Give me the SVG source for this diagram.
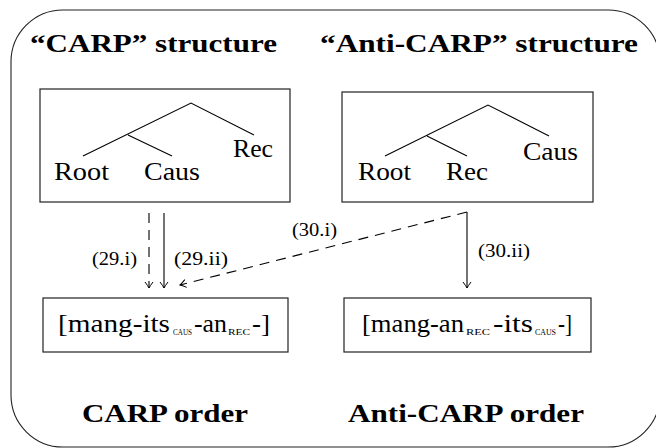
<svg xmlns="http://www.w3.org/2000/svg" width="656" height="448" viewBox="0 0 656 448">
<style>
  .frame{fill:none;stroke:#222;stroke-width:1.1}
  .box{fill:#fff;stroke:#222;stroke-width:1.2}
  .br{fill:none;stroke:#000;stroke-width:1.1}
  text{font-family:"Liberation Serif","DejaVu Serif","Noto Serif","Tinos","Nimbus Roman","Nimbus Roman No9 L","FreeSerif","Times New Roman",Times,serif;fill:#000}
  .title{font-size:26px;font-weight:bold}
  .lab{font-size:26px}
  .sm{font-size:19px}
  .sc{font-size:8.5px}
  .edge{fill:none;stroke:#000;stroke-width:1.1}
  .dash{stroke-dasharray:10 7}
</style>
<defs>
  <marker id="to" viewBox="-8 -5 9 10" refX="0" refY="0" markerWidth="9" markerHeight="10" markerUnits="userSpaceOnUse" orient="auto">
    <path d="M-6,-4 Q-2,-1 0,0 Q-2,1 -6,4" fill="none" stroke="#000" stroke-width="1"/>
  </marker>
</defs>
<rect class="frame" x="11" y="10" width="649" height="437" rx="52" ry="52"/>
<g id="titles" class="title">
  <text x="30" y="52" textLength="247" lengthAdjust="spacingAndGlyphs">“CARP” structure</text>
  <text x="320" y="52" textLength="318" lengthAdjust="spacingAndGlyphs">“Anti-CARP” structure</text>
  <text x="82" y="422" textLength="166" lengthAdjust="spacingAndGlyphs">CARP order</text>
  <text x="348" y="422" textLength="236" lengthAdjust="spacingAndGlyphs">Anti-CARP order</text>
</g>
<g id="carp-structure">
  <rect class="box" x="40" y="89" width="250" height="113"/>
  <path class="br" d="M83,156 L191,103 L254,135 M128,135 L172,156"/>
  <text class="lab" x="54" y="180" textLength="55" lengthAdjust="spacingAndGlyphs">Root</text>
  <text class="lab" x="144" y="180" textLength="56" lengthAdjust="spacingAndGlyphs">Caus</text>
  <text class="lab" x="233" y="157" textLength="40" lengthAdjust="spacingAndGlyphs">Rec</text>
</g>
<g id="anticarp-structure">
  <rect class="box" x="342" y="92" width="251" height="110"/>
  <path class="br" d="M385,156 L488,105 L549,136 M427,136 L467,156"/>
  <text class="lab" x="358" y="180" textLength="53" lengthAdjust="spacingAndGlyphs">Root</text>
  <text class="lab" x="446" y="180" textLength="42" lengthAdjust="spacingAndGlyphs">Rec</text>
  <text class="lab" x="523" y="160" textLength="55" lengthAdjust="spacingAndGlyphs">Caus</text>
</g>
<g id="carp-order">
  <rect class="box" x="43" y="298" width="245" height="54"/>
  <text class="lab" y="332"><tspan x="58" textLength="112" lengthAdjust="spacingAndGlyphs">[mang-its</tspan><tspan class="sc" x="173" y="335" textLength="19" lengthAdjust="spacingAndGlyphs">CAUS</tspan><tspan x="194" y="332" textLength="33" lengthAdjust="spacingAndGlyphs">-an</tspan><tspan class="sc" x="228" y="335" textLength="22" lengthAdjust="spacingAndGlyphs">REC</tspan><tspan x="252" y="332" textLength="18" lengthAdjust="spacingAndGlyphs">-]</tspan></text>
</g>
<g id="anticarp-order">
  <rect class="box" x="344" y="298" width="247" height="54"/>
  <text class="lab" y="332"><tspan x="362" textLength="102" lengthAdjust="spacingAndGlyphs">[mang-an</tspan><tspan class="sc" x="466" y="335" textLength="24" lengthAdjust="spacingAndGlyphs">REC</tspan><tspan x="493" y="332" textLength="40" lengthAdjust="spacingAndGlyphs">-its</tspan><tspan class="sc" x="535" y="335" textLength="21" lengthAdjust="spacingAndGlyphs">CAUS</tspan><tspan x="558" y="332" textLength="14" lengthAdjust="spacingAndGlyphs">-]</tspan></text>
</g>
<g id="connectors">
  <line class="edge dash" x1="149" y1="213" x2="149" y2="288" marker-end="url(#to)"/>
  <line class="edge" x1="164" y1="213" x2="164" y2="288" marker-end="url(#to)"/>
  <line class="edge dash" x1="467" y1="212" x2="180" y2="285" marker-end="url(#to)"/>
  <line class="edge" x1="467" y1="212" x2="467" y2="288" marker-end="url(#to)"/>
  <text class="sm" x="92" y="265" textLength="45" lengthAdjust="spacingAndGlyphs">(29.i)</text>
  <text class="sm" x="174" y="265" textLength="54" lengthAdjust="spacingAndGlyphs">(29.ii)</text>
  <text class="sm" x="292" y="236" textLength="45" lengthAdjust="spacingAndGlyphs">(30.i)</text>
  <text class="sm" x="478" y="257" textLength="52" lengthAdjust="spacingAndGlyphs">(30.ii)</text>
</g>
</svg>
